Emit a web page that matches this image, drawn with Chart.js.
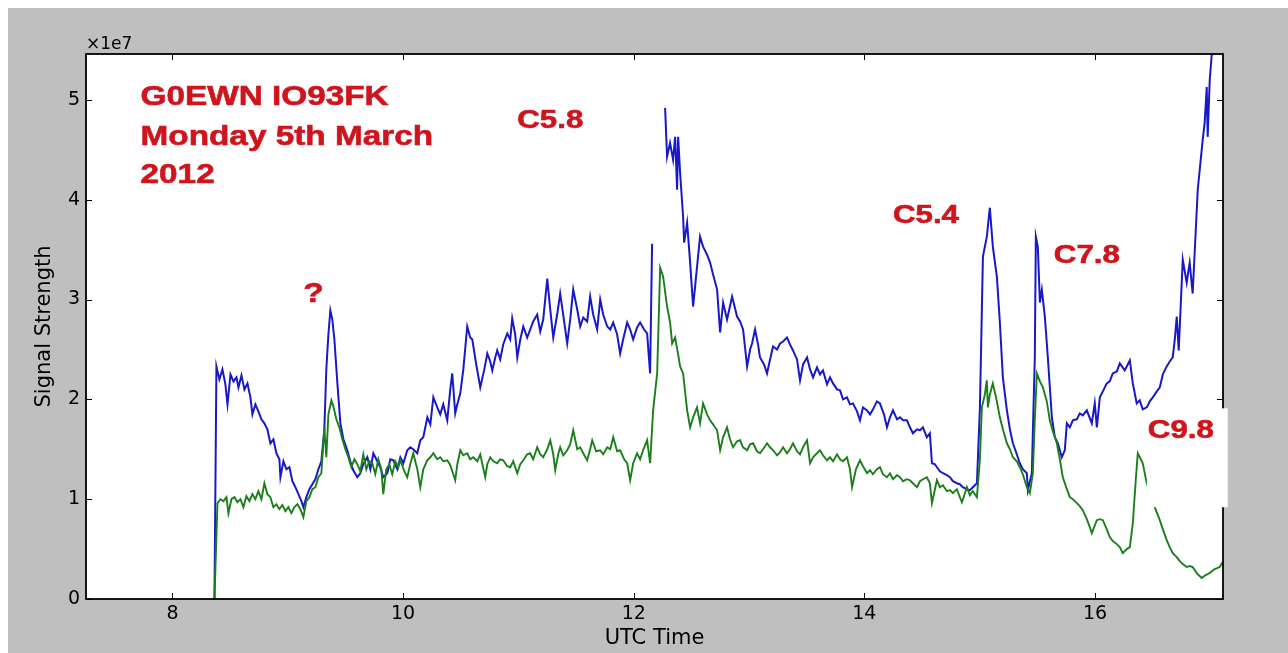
<!DOCTYPE html>
<html><head><meta charset="utf-8">
<script src="https://cdn.jsdelivr.net/npm/chart.js@4.4.1/dist/chart.umd.min.js"></script>
<style>html,body{margin:0;padding:0;background:#fff;}#wrap{width:1288px;height:653px;}</style>
</head><body><div id="wrap"><canvas id="c" width="1288" height="653"></canvas></div>
<script>
const xTicks=[8,10,12,14,16];
const yTicks=[0,1,2,3,4,5];
const offsetLabel='\u00d71e7';
const xTitle='UTC Time';
const yTitle='Signal Strength';

const blueTime=[8.364,8.381,8.407,8.433,8.459,8.477,8.503,8.529,8.555,8.572,8.598,8.624,8.650,8.676,8.693,8.719,8.745,8.771,8.797,8.823,8.849,8.875,8.901,8.927,8.936,8.962,8.988,9.014,9.040,9.066,9.092,9.118,9.135,9.161,9.187,9.213,9.239,9.265,9.291,9.317,9.334,9.352,9.369,9.386,9.404,9.430,9.456,9.482,9.516,9.542,9.568,9.603,9.629,9.655,9.690,9.716,9.742,9.776,9.802,9.828,9.863,9.889,9.915,9.950,9.976,10.002,10.036,10.062,10.088,10.123,10.149,10.175,10.210,10.236,10.262,10.296,10.322,10.348,10.383,10.409,10.426,10.452,10.470,10.496,10.522,10.556,10.582,10.600,10.634,10.669,10.704,10.730,10.756,10.773,10.799,10.816,10.842,10.868,10.903,10.929,10.946,10.972,10.990,11.016,11.042,11.076,11.102,11.128,11.163,11.189,11.215,11.250,11.276,11.302,11.336,11.362,11.388,11.423,11.449,11.475,11.510,11.536,11.562,11.596,11.622,11.648,11.683,11.709,11.735,11.770,11.796,11.822,11.856,11.882,11.908,11.943,11.969,11.995,12.029,12.055,12.090,12.116,12.142,12.159,12.211,
12.272,12.289,12.315,12.341,12.359,12.376,12.385,12.402,12.428,12.437,12.463,12.489,12.515,12.549,12.575,12.601,12.636,12.662,12.688,12.723,12.749,12.775,12.809,12.853,12.896,12.922,12.948,12.983,13.009,13.026,13.052,13.078,13.095,13.130,13.156,13.182,13.208,13.243,13.269,13.295,13.329,13.355,13.381,13.416,13.442,13.468,13.503,13.529,13.555,13.589,13.615,13.641,13.676,13.702,13.728,13.763,13.789,13.815,13.849,13.875,13.901,13.936,13.962,13.988,14.023,14.049,14.075,14.109,14.135,14.170,14.196,14.222,14.248,14.283,14.309,14.335,14.369,14.395,14.421,14.456,14.482,14.508,14.542,14.568,14.586,14.612,14.629,14.655,14.681,14.716,14.742,14.768,14.802,14.828,14.854,14.889,14.915,14.941,14.976,15.002,15.028,15.062,15.088,15.114,15.149,15.175,15.201,15.236,15.262,15.288,15.322,15.348,15.374,15.409,15.418,15.452,15.478,15.487,15.504,15.522,15.539,15.565,15.591,15.626,15.652,15.678,15.712,15.738,15.756,15.782,15.808,15.842,15.868,15.894,15.929,15.972,15.998,16.016,16.042,16.068,16.102,16.128,16.154,16.189,16.215,16.258,16.302,16.328,16.362,16.388,16.414,16.449,16.475,16.501,16.536,16.562,16.588,16.622,16.648,16.674,16.692,16.709,16.726,16.761,16.795,16.821,16.847,16.891,16.934,16.951,16.969,16.977,16.995,17.012,17.029];
const blueSignal=[0,2.33,2.20,2.30,2.15,1.95,2.25,2.18,2.22,2.12,2.24,2.10,2.16,2.02,1.85,1.95,1.88,1.80,1.76,1.70,1.56,1.60,1.46,1.40,1.22,1.38,1.30,1.32,1.18,1.12,1.05,0.98,0.92,1.02,1.10,1.15,1.20,1.30,1.38,1.70,2.30,2.65,2.89,2.80,2.60,2.16,1.76,1.60,1.49,1.38,1.29,1.22,1.26,1.35,1.42,1.30,1.46,1.38,1.32,1.22,1.26,1.40,1.39,1.30,1.42,1.36,1.49,1.52,1.50,1.46,1.59,1.62,1.82,1.75,2.02,1.92,1.85,1.95,1.79,2.10,2.26,1.86,1.95,2.06,2.30,2.73,2.62,2.60,2.35,2.12,2.30,2.46,2.38,2.29,2.42,2.49,2.40,2.55,2.66,2.60,2.81,2.65,2.42,2.60,2.73,2.62,2.70,2.78,2.85,2.68,2.80,3.21,2.90,2.62,2.85,3.06,2.85,2.56,2.80,3.10,2.90,2.73,2.82,2.78,3.03,2.85,2.70,3.00,2.85,2.73,2.70,2.77,2.65,2.46,2.60,2.77,2.70,2.60,2.72,2.77,2.70,2.66,2.26,3.56,null,
4.92,4.43,4.57,4.40,4.63,4.10,4.63,4.27,3.83,3.57,3.77,3.37,2.93,3.33,3.63,3.53,3.45,3.37,3.25,3.10,2.67,2.97,2.80,3.03,2.83,2.78,2.70,2.33,2.50,2.56,2.70,2.55,2.42,2.35,2.26,2.40,2.53,2.50,2.56,2.58,2.62,2.55,2.49,2.40,2.19,2.35,2.42,2.30,2.22,2.32,2.25,2.29,2.15,2.22,2.16,2.10,2.09,2.00,2.02,1.95,1.96,1.88,1.79,1.92,1.89,1.85,1.90,1.98,1.96,1.85,1.72,1.82,1.89,1.80,1.82,1.79,1.79,1.72,1.66,1.70,1.69,1.72,1.62,1.66,1.36,1.35,1.32,1.28,1.26,1.24,1.22,1.18,1.16,1.15,1.12,1.10,1.09,1.12,1.16,1.92,3.43,3.63,3.92,3.53,3.23,2.77,2.22,1.89,1.70,1.56,1.45,1.36,1.30,1.26,1.09,1.26,2.42,3.63,3.53,2.97,3.10,2.83,2.42,1.82,1.62,1.56,1.42,1.49,1.76,1.72,1.79,1.80,1.86,1.84,1.89,1.76,1.96,1.72,2.02,2.08,2.16,2.18,2.26,2.28,2.36,2.29,2.39,2.16,1.96,1.99,1.90,1.92,1.98,2.02,2.08,2.12,2.25,2.33,2.38,2.42,2.60,2.83,2.49,3.40,3.17,3.37,3.06,4.10,4.60,4.77,5.13,4.63,5.20,5.45,5.60];

const greenTime=[8.364,8.390,8.416,8.442,8.468,8.485,8.511,8.537,8.563,8.589,8.615,8.641,8.667,8.693,8.719,8.745,8.771,8.797,8.823,8.849,8.875,8.901,8.927,8.953,8.979,9.005,9.031,9.057,9.083,9.109,9.135,9.161,9.187,9.213,9.239,9.265,9.291,9.317,9.334,9.352,9.378,9.395,9.421,9.447,9.473,9.499,9.525,9.551,9.577,9.603,9.629,9.655,9.681,9.707,9.733,9.759,9.785,9.811,9.828,9.854,9.880,9.906,9.932,9.958,9.976,10.010,10.036,10.062,10.088,10.123,10.149,10.175,10.210,10.236,10.262,10.296,10.322,10.348,10.383,10.409,10.452,10.470,10.496,10.522,10.556,10.582,10.608,10.643,10.669,10.712,10.730,10.756,10.782,10.816,10.842,10.868,10.903,10.929,10.955,10.990,11.016,11.042,11.076,11.102,11.128,11.163,11.189,11.215,11.250,11.276,11.302,11.319,11.345,11.362,11.388,11.423,11.449,11.475,11.510,11.536,11.562,11.596,11.622,11.640,11.674,11.709,11.735,11.770,11.796,11.822,11.856,11.882,11.917,11.943,11.969,11.995,12.029,12.055,12.081,12.116,12.142,12.168,12.203,12.229,12.255,12.289,12.315,12.333,12.359,12.385,12.402,12.428,12.463,12.489,12.515,12.549,12.575,12.601,12.636,12.662,12.688,12.723,12.749,12.775,12.809,12.835,12.861,12.896,12.922,12.948,12.983,13.009,13.035,13.069,13.095,13.121,13.156,13.182,13.208,13.243,13.269,13.295,13.329,13.355,13.381,13.416,13.442,13.468,13.503,13.529,13.555,13.589,13.615,13.641,13.676,13.702,13.728,13.763,13.789,13.815,13.849,13.875,13.893,13.927,13.962,13.988,14.023,14.049,14.075,14.109,14.135,14.161,14.196,14.222,14.248,14.283,14.309,14.335,14.369,14.395,14.421,14.456,14.482,14.508,14.542,14.568,14.586,14.612,14.629,14.655,14.681,14.716,14.742,14.768,14.802,14.828,14.846,14.872,14.889,14.915,14.941,14.976,15.002,15.019,15.045,15.062,15.071,15.088,15.114,15.149,15.175,15.201,15.236,15.262,15.288,15.322,15.348,15.374,15.409,15.435,15.461,15.478,15.496,15.522,15.548,15.582,15.608,15.634,15.669,15.695,15.721,15.756,15.782,15.808,15.842,15.868,15.894,15.929,15.955,15.972,16.016,16.042,16.068,16.102,16.128,16.154,16.189,16.215,16.241,16.276,16.302,16.328,16.354,16.371,16.397,16.414,16.449,16.475,16.501,16.518,16.562,16.588,16.622,16.648,16.674,16.709,16.735,16.761,16.795,16.821,16.847,16.882,16.925,16.960,16.995,17.038,17.081,17.107];
const greenSignal=[0,0.96,1.00,0.98,1.02,0.86,1.00,1.02,0.97,1.00,0.92,1.03,0.98,1.05,1.00,1.08,1.00,1.16,1.05,1.02,0.92,0.95,0.90,0.94,0.88,0.92,0.86,0.92,0.95,0.90,0.82,0.98,1.02,1.10,1.12,1.22,1.26,1.72,1.42,1.85,1.99,1.93,1.80,1.72,1.60,1.50,1.42,1.32,1.40,1.35,1.28,1.45,1.30,1.38,1.36,1.25,1.40,1.30,1.05,1.30,1.35,1.25,1.38,1.32,1.39,1.28,1.22,1.35,1.46,1.30,1.12,1.30,1.39,1.42,1.46,1.40,1.42,1.38,1.39,1.34,1.19,1.35,1.49,1.44,1.46,1.40,1.42,1.38,1.45,1.22,1.35,1.42,1.38,1.36,1.40,1.39,1.33,1.32,1.38,1.26,1.35,1.39,1.45,1.46,1.40,1.52,1.45,1.42,1.50,1.59,1.45,1.29,1.45,1.52,1.44,1.49,1.55,1.69,1.50,1.52,1.46,1.39,1.50,1.59,1.48,1.49,1.45,1.52,1.50,1.62,1.48,1.49,1.40,1.36,1.19,1.36,1.46,1.40,1.49,1.59,1.36,1.89,2.26,3.32,3.23,2.93,2.77,2.56,2.62,2.45,2.33,2.26,1.89,1.72,1.82,1.92,1.76,1.96,1.85,1.79,1.75,1.69,1.49,1.62,1.72,1.60,1.52,1.58,1.59,1.52,1.49,1.55,1.56,1.48,1.46,1.50,1.56,1.52,1.49,1.44,1.47,1.52,1.46,1.50,1.56,1.48,1.45,1.52,1.59,1.36,1.42,1.46,1.49,1.44,1.39,1.42,1.38,1.45,1.40,1.38,1.42,1.30,1.12,1.30,1.39,1.33,1.26,1.29,1.25,1.30,1.32,1.25,1.22,1.26,1.20,1.24,1.22,1.18,1.20,1.19,1.16,1.12,1.18,1.20,1.22,1.16,0.96,1.10,1.19,1.12,1.14,1.08,1.09,1.06,1.10,1.02,0.97,1.06,1.12,1.04,1.08,1.02,1.40,1.92,2.05,2.19,1.92,2.05,2.16,1.98,1.82,1.70,1.56,1.50,1.42,1.38,1.32,1.25,1.12,1.06,1.26,1.80,2.26,2.18,2.12,1.98,1.79,1.68,1.56,1.40,1.22,1.10,1.02,1.00,0.96,0.93,0.89,0.80,0.72,0.66,0.79,0.80,0.79,0.70,0.62,0.58,0.55,0.52,0.46,0.50,0.52,0.76,1.20,1.46,1.40,1.36,1.16,1.08,0.98,0.92,0.79,0.70,0.59,0.52,0.46,0.42,0.38,0.35,0.32,0.33,0.32,0.26,0.21,0.24,0.26,0.30,0.32,0.37];

const notes=[
 {text:'G0EWN IO93FK',x:7.723,y:4.95,size:28,sx:1.19},
 {text:'Monday 5th March',x:7.723,y:4.549,size:28,sx:1.19},
 {text:'2012',x:7.723,y:4.168,size:28,sx:1.19},
 {text:'C5.8',x:10.99,y:4.719,size:25,sx:1.25},
 {text:'?',x:9.135,y:2.976,size:28,sx:1.2},
 {text:'C5.4',x:14.248,y:3.768,size:25,sx:1.25},
 {text:'C7.8',x:15.643,y:3.367,size:25,sx:1.25},
 {text:'C9.8',x:16.458,y:1.613,size:25,sx:1.25}
];
const noteBox={x0:16.45,x1:17.151,y0:0.92,y1:1.91};

const bgPlugin={id:'bg',beforeDraw(chart){
  const c=chart.ctx,a=chart.chartArea;
  c.save();
  c.fillStyle='#ffffff';c.fillRect(0,0,chart.width,chart.height);
  c.fillStyle='#bfbfbf';c.fillRect(8,8,chart.width-8,chart.height-8);
  c.fillStyle='#ffffff';c.fillRect(a.left,a.top,a.right-a.left,a.bottom-a.top);
  c.restore();
}};
const framePlugin={id:'frame',afterDatasetsDraw(chart){
  const c=chart.ctx,a=chart.chartArea,xs=chart.scales.x,ys=chart.scales.y;
  c.save();
  c.strokeStyle='#000';c.lineWidth=1;
  const L=6;
  c.beginPath();
  xTicks.forEach(v=>{const p=Math.round(xs.getPixelForValue(v))+0.5;
    c.moveTo(p,a.bottom);c.lineTo(p,a.bottom-L);c.moveTo(p,a.top);c.lineTo(p,a.top+L);});
  yTicks.forEach(v=>{const p=Math.round(ys.getPixelForValue(v))+0.5;
    c.moveTo(a.left,p);c.lineTo(a.left+L,p);c.moveTo(a.right,p);c.lineTo(a.right-L,p);});
  c.stroke();
  c.lineWidth=1.8;
  c.strokeRect(a.left,a.top,a.right-a.left,a.bottom-a.top);
  c.restore();
}};
const notePlugin={id:'notes',afterDraw(chart){
  const c=chart.ctx,xs=chart.scales.x,ys=chart.scales.y,a=chart.chartArea;
  c.save();
  const bx0=xs.getPixelForValue(noteBox.x0),bx1=xs.getPixelForValue(noteBox.x1);
  const by0=ys.getPixelForValue(noteBox.y0),by1=ys.getPixelForValue(noteBox.y1);
  c.fillStyle='#ffffff';c.fillRect(bx0,by1,bx1-bx0,by0-by1);
  c.fillStyle='#000';c.font='17px "DejaVu Sans"';c.textBaseline='alphabetic';c.textAlign='left';
  c.fillText(offsetLabel,a.left,a.top-5);
  c.fillStyle='#d0141e';
  notes.forEach(n=>{
    c.save();
    c.translate(xs.getPixelForValue(n.x),ys.getPixelForValue(n.y));
    c.scale(n.sx,1);
    c.font='bold '+n.size+'px "Liberation Sans", Arial, sans-serif';
    c.fillText(n.text,0,0);
    c.lineWidth=0.6;c.strokeStyle='#d0141e';c.strokeText(n.text,0,0);
    c.restore();
  });
  c.restore();
}};

new Chart(document.getElementById('c'),{
  type:'line',
  data:{datasets:[
    {label:'green',data:greenTime.map((t,i)=>({x:t,y:greenSignal[i]})),borderColor:'#1a7f1a',borderWidth:1.9,pointRadius:0,spanGaps:false,tension:0},
    {label:'blue',data:blueTime.map((t,i)=>({x:t,y:blueSignal[i]})),borderColor:'#1818c8',borderWidth:2,pointRadius:0,spanGaps:false,tension:0}
  ]},
  options:{
    responsive:false,animation:false,devicePixelRatio:1,
    layout:{padding:{left:0,top:54,right:65,bottom:0}},
    plugins:{legend:{display:false},tooltip:{enabled:false}},
    scales:{
      x:{type:'linear',min:7.25,max:17.11,
        afterBuildTicks:s=>{s.ticks=xTicks.map(v=>({value:v}));},
        afterFit:s=>{s.height=54;},
        grid:{display:false,drawTicks:false},border:{display:false},
        ticks:{font:{family:'DejaVu Sans',size:19},color:'#000',padding:4,maxRotation:0,autoSkip:false,callback:v=>String(v)},
        title:{display:true,text:xTitle,font:{family:'DejaVu Sans',size:21},color:'#000',padding:{top:0,bottom:2}}
      },
      y:{type:'linear',min:0,max:5.46,
        afterBuildTicks:s=>{s.ticks=yTicks.map(v=>({value:v}));},
        afterFit:s=>{s.width=86;},
        grid:{display:false,drawTicks:false},border:{display:false},
        ticks:{font:{family:'DejaVu Sans',size:19},color:'#000',padding:6,autoSkip:false,callback:v=>String(v)},
        title:{display:true,text:yTitle,font:{family:'DejaVu Sans',size:21},color:'#000',padding:{top:32,bottom:0}}
      }
    }
  },
  plugins:[bgPlugin,framePlugin,notePlugin]
});
</script></body></html>
